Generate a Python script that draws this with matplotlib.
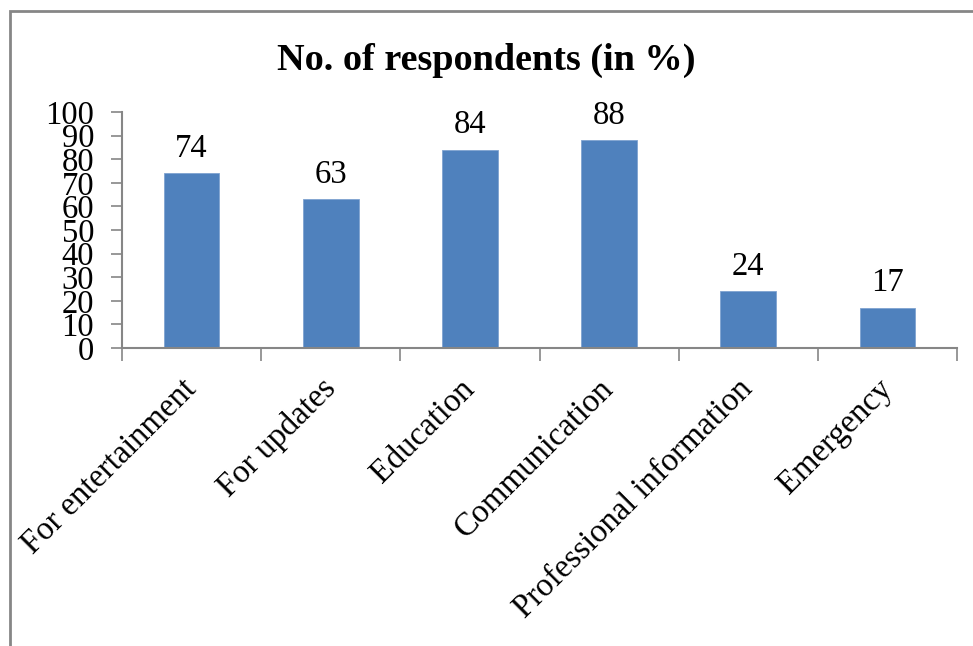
import matplotlib.pyplot as plt
from matplotlib.patches import Rectangle
from matplotlib.ticker import FixedLocator

categorias = ['For entertainment', 'For updates', 'Education',
              'Communication', 'Professional information', 'Emergency']
valores = [74, 63, 84, 88, 24, 17]
yticks = list(range(0, 101, 10))

plt.rcParams['font.family'] = ['Liberation Serif', 'DejaVu Serif']
cinza = '#868686'

fig = plt.figure(figsize=(9.73, 6.46), dpi=100)
ax = fig.add_axes([0.1254, 0.4613, 0.8582, 0.3653])

x = range(len(categorias))
barras = ax.bar(x, valores, width=0.4, color='#4F81BD', edgecolor='#7FA3D0', linewidth=0.6)
ax.bar_label(barras, padding=7, fontsize=23.5)

ax.set_xlim(-0.5, len(categorias) - 0.5)
ax.set_ylim(0, 100)
ax.set_yticks(yticks)
ax.tick_params(axis='y', labelsize=23.5, length=8, width=1.2, color=cinza, pad=12)
ax.set_xticks(list(x))
ax.set_xticklabels(categorias, rotation=45, ha='right', va='center',
                   rotation_mode='anchor', fontsize=23.5)
ax.tick_params(axis='x', which='major', length=0, pad=26)
ax.xaxis.set_minor_locator(FixedLocator([i - 0.5 for i in range(len(categorias) + 1)]))
ax.tick_params(axis='x', which='minor', length=9, width=1.2, color=cinza)

for lado in ['top', 'right']:
    ax.spines[lado].set_visible(False)
for lado in ['left', 'bottom']:
    ax.spines[lado].set_color(cinza)
    ax.spines[lado].set_linewidth(1.5)

fig.text(0.5, 0.907, 'No. of respondents (in %)', ha='center', va='center',
         fontsize=27.5, fontweight='bold')

# moldura do gráfico (só esquerda e topo ficam dentro da imagem)
fig.patches.append(Rectangle((10 / 973, -0.5), 2, 0.5 + 1 - 11 / 646,
                             transform=fig.transFigure, fill=False,
                             edgecolor=cinza, linewidth=2))

plt.savefig('out.png', dpi=100)
